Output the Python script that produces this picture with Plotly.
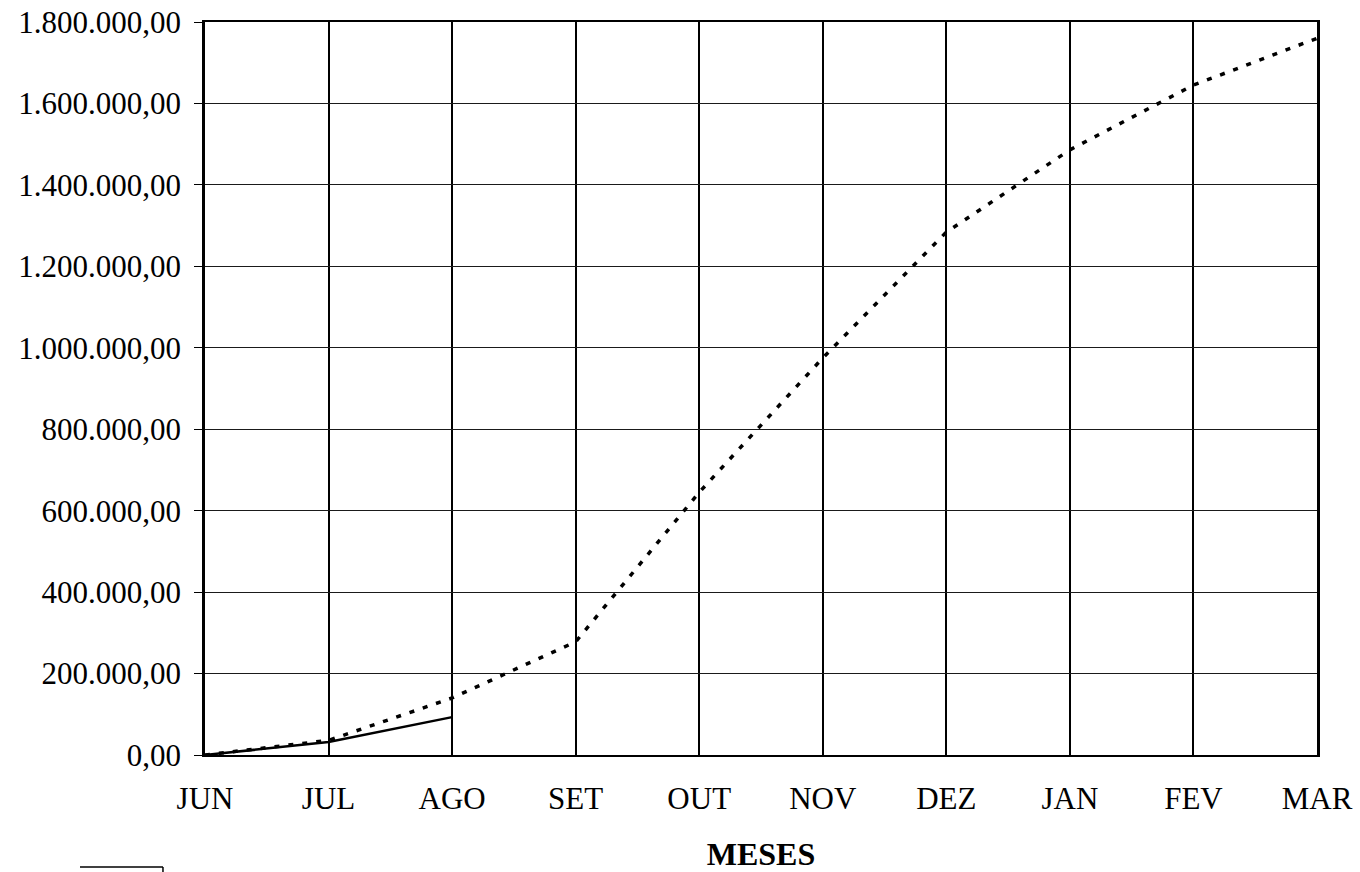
import plotly.graph_objects as go

months = ["JUN", "JUL", "AGO", "SET", "OUT", "NOV", "DEZ", "JAN", "FEV", "MAR"]
previsto = [0, 36000, 140000, 278000, 645000, 975000, 1284000, 1486000, 1645000, 1760000]
realizado_months = ["JUN", "JUL", "AGO"]
realizado = [0, 32000, 93000]

y_ticks = [0, 200000, 400000, 600000, 800000, 1000000, 1200000, 1400000, 1600000, 1800000]
y_tick_labels = ["0,00", "200.000,00", "400.000,00", "600.000,00", "800.000,00",
                 "1.000.000,00", "1.200.000,00", "1.400.000,00", "1.600.000,00", "1.800.000,00"]

font_family = "Liberation Serif"

fig = go.Figure()
fig.add_trace(go.Scatter(
    x=months, y=previsto, mode="lines",
    line=dict(color="black", width=3.5, dash="5px,9px"),
    showlegend=False, hoverinfo="skip"))
fig.add_trace(go.Scatter(
    x=realizado_months, y=realizado, mode="lines",
    line=dict(color="black", width=2.5),
    showlegend=False, hoverinfo="skip"))

fig.update_layout(
    width=1360, height=872,
    margin=dict(l=205, r=43, t=21.5, b=117, autoexpand=False),
    paper_bgcolor="white", plot_bgcolor="white",
    font=dict(family=font_family, color="black"),
    xaxis=dict(
        type="category", categoryorder="array", categoryarray=months,
        range=[0, len(months) - 1],
        automargin=False,
        showgrid=True, gridcolor="black", gridwidth=1.5,
        showline=True, linecolor="black", linewidth=2, mirror=True,
        ticks="", tickfont=dict(size=31, family=font_family),
        ticklabelstandoff=15, ticklabeloverflow="allow",
        title=dict(text="<b>MESES</b>", font=dict(size=32, family=font_family), standoff=29),
        zeroline=False,
    ),
    yaxis=dict(
        range=[0, 1800000],
        automargin=False,
        tickmode="array", tickvals=y_ticks, ticktext=y_tick_labels,
        showgrid=True, gridcolor="#1a1a1a", gridwidth=1,
        showline=True, linecolor="black", linewidth=2.5, mirror=True,
        ticks="outside", ticklen=8, tickcolor="black",
        tickfont=dict(size=31, family=font_family),
        ticklabelstandoff=7, ticklabeloverflow="allow",
        zeroline=False,
    ),
    shapes=[
        dict(type="line", xref="paper", yref="paper",
             x0=-0.1124, x1=-0.0378, y0=-0.1527, y1=-0.1527,
             line=dict(color="black", width=1.5)),
        dict(type="line", xref="paper", yref="paper",
             x0=-0.0378, x1=-0.0378, y0=-0.1527, y1=-0.1595,
             line=dict(color="black", width=1.5)),
    ],
)

fig.write_html("out.html", config={"displayModeBar": False},
               post_script="document.body.style.margin='0';")
